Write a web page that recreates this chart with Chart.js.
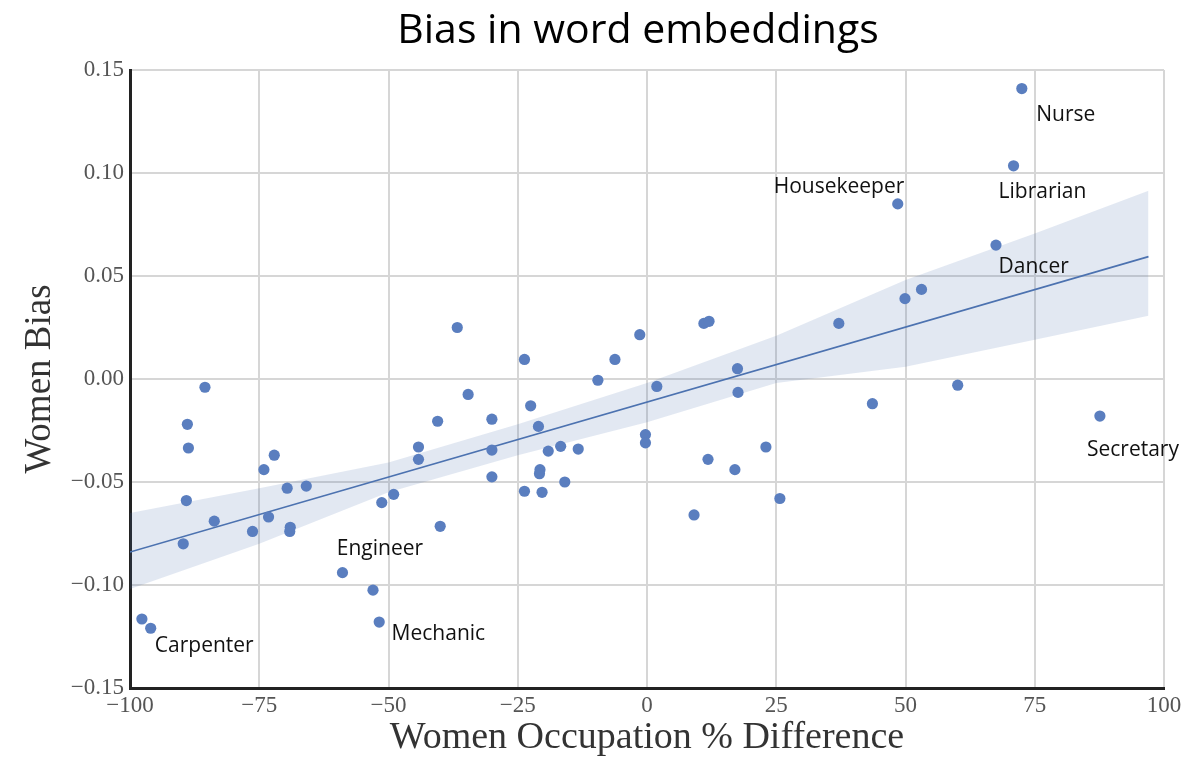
<!DOCTYPE html>
<html>
<head>
<meta charset="utf-8">
<title>Bias in word embeddings</title>
<script src="https://cdn.jsdelivr.net/npm/chart.js@4.4.0/dist/chart.umd.min.js"></script>
<style>
    html, body { margin: 0; padding: 0; background: #ffffff; }
    #wrap { width: 1186px; height: 759px; }
</style>
</head>
<body>
<div id="wrap"><canvas id="biasChart"></canvas></div>
<script>
// Occupations: % difference of women vs. bias score
const occupationDiff = [-85.5, -88.9, -88.7, -72.1, -74.1, -69.6, -65.9, -89.1, -83.7, -73.2,
    -76.3, -69.0, -69.1, -89.7, -58.9, -53.0, -51.8, -97.7, -96.0, -51.3,
    -49.0, -36.7, -23.7, -6.2, -1.4, 11.0, 12.0, -9.5, 1.9, 17.5,
    17.6, -34.6, -22.5, -40.5, -30.0, -21.0, -44.2, -44.2, -30.0, -19.1,
    -16.7, -13.3, -0.3, -0.3, -30.0, -20.7, -20.8, -15.9, -23.7, -20.3,
    -40.0, 11.8, 17.0, 23.0, 25.7, 9.1, 72.5, 70.9, 48.5, 67.5,
    53.1, 49.9, 37.1, 60.1, 43.6, 87.6];
const womenBias = [-0.004, -0.022, -0.0335, -0.037, -0.044, -0.053, -0.052, -0.059, -0.069, -0.067,
    -0.074, -0.072, -0.074, -0.080, -0.094, -0.1025, -0.118, -0.1165, -0.121, -0.060,
    -0.056, 0.025, 0.0095, 0.0095, 0.0215, 0.027, 0.028, -0.0006, -0.0036, 0.005,
    -0.0065, -0.0075, -0.013, -0.0205, -0.0195, -0.023, -0.033, -0.039, -0.0345, -0.035,
    -0.0327, -0.034, -0.027, -0.031, -0.0475, -0.044, -0.046, -0.050, -0.0545, -0.055,
    -0.0715, -0.039, -0.044, -0.033, -0.058, -0.066, 0.141, 0.1035, 0.085, 0.065,
    0.0435, 0.039, 0.027, -0.003, -0.012, -0.018];

// regression fit and its confidence band
const fitX = [-100, 97];
const fitY = [-0.084, 0.0594];
const bandX = [-100, -75, -50, -25, 0, 25, 50, 75, 97];
const bandUpper = [-0.065, -0.053, -0.0405, -0.022, -0.002, 0.021, 0.048, 0.0706, 0.0914];
const bandLower = [-0.102, -0.080, -0.055, -0.037, -0.021, -0.002, 0.006, 0.019, 0.0307];

// named occupations (text anchor: left edge x, middle y)
const labelTexts = ['Nurse', 'Librarian', 'Housekeeper', 'Dancer', 'Secretary', 'Engineer', 'Mechanic', 'Carpenter'];
const labelX = [75.3, 68.0, 24.5, 68.0, 85.1, -60.0, -49.4, -95.2];
const labelY = [0.128, 0.0908, 0.0932, 0.0544, -0.0345, -0.0825, -0.1238, -0.1296];

const xTicks = [-100, -75, -50, -25, 0, 25, 50, 75, 100];
const yTicks = [-0.15, -0.10, -0.05, 0.00, 0.05, 0.10, 0.15];

const chartTitle = 'Bias in word embeddings';

const toXY = (xs, ys) => xs.map((x, i) => ({ x: x, y: ys[i] }));
const minus = '\u2212';

// Title and occupation names drawn on top of the plot
const occupationLabels = {
    id: 'occupationLabels',
    afterDatasetsDraw(chart) {
        const ctx = chart.ctx;
        const xs = chart.scales.x, ys = chart.scales.y;
        ctx.save();
        ctx.font = '21px "Open Sans", sans-serif';
        ctx.fillStyle = '#111111';
        ctx.textAlign = 'left';
        ctx.textBaseline = 'middle';
        labelTexts.forEach(function(t, i) {
            ctx.fillText(t, xs.getPixelForValue(labelX[i]), ys.getPixelForValue(labelY[i]));
        });

        // title sits a little left of the plot centre, like the original
        ctx.font = '41px "Open Sans", sans-serif';
        ctx.fillStyle = '#000000';
        ctx.textAlign = 'center';
        ctx.textBaseline = 'alphabetic';
        const area = chart.chartArea;
        ctx.fillText(chartTitle, (area.left + area.right) / 2 - 9, 43);
        ctx.restore();
    }
};

const canvas = document.getElementById('biasChart');
new Chart(canvas, {
    type: 'scatter',
    data: {
        datasets: [{
            label: 'upper',
            data: toXY(bandX, bandUpper),
            showLine: true,
            borderWidth: 0,
            pointRadius: 0,
            backgroundColor: 'rgba(76, 114, 176, 0.16)',
            fill: '+1',
            order: 3
        }, {
            label: 'lower',
            data: toXY(bandX, bandLower),
            showLine: true,
            borderWidth: 0,
            pointRadius: 0,
            fill: false,
            order: 3
        }, {
            label: 'fit',
            data: toXY(fitX, fitY),
            showLine: true,
            borderColor: '#4c72b0',
            borderWidth: 1.6,
            pointRadius: 0,
            fill: false,
            order: 2
        }, {
            label: 'occupations',
            data: toXY(occupationDiff, womenBias),
            pointRadius: 5.6,
            pointBackgroundColor: '#5a7ebf',
            pointBorderWidth: 0,
            order: 1
        }]
    },
    options: {
        responsive: true,
        maintainAspectRatio: false,
        animation: false,
        layout: { padding: { left: 0, right: 22, top: 70, bottom: 0 } },
        plugins: {
            legend: { display: false },
            tooltip: { enabled: false },
            title: { display: false }
        },
        scales: {
            x: {
                type: 'linear',
                min: -100,
                max: 100,
                afterBuildTicks: function(scale) {
                    scale.ticks = xTicks.map(v => ({ value: v }));
                },
                afterFit: function(scale) {
                    scale.height = 71;
                    scale.paddingLeft = 0;
                    scale.paddingRight = 0;
                },
                grid: { color: '#d6d6d6', lineWidth: 2, drawTicks: false },
                border: { display: true, color: '#222222', width: 3 },
                ticks: {
                    color: '#555555',
                    padding: 4,
                    maxRotation: 0,
                    font: { family: '"Liberation Serif", serif', size: 23 },
                    callback: v => (v < 0 ? minus + Math.abs(v) : String(v))
                },
                title: {
                    display: true,
                    text: 'Women Occupation % Difference',
                    color: '#333333',
                    font: { family: '"Liberation Serif", serif', size: 38, lineHeight: 1.1 },
                    padding: { top: 0, bottom: 0 }
                }
            },
            y: {
                type: 'linear',
                min: -0.15,
                max: 0.15,
                afterBuildTicks: function(scale) {
                    scale.ticks = yTicks.map(v => ({ value: v }));
                },
                afterFit: function(scale) {
                    scale.width = 130;
                    scale.paddingTop = 0;
                    scale.paddingBottom = 0;
                },
                grid: { color: '#d6d6d6', lineWidth: 2, drawTicks: false },
                border: { display: true, color: '#222222', width: 3 },
                ticks: {
                    color: '#555555',
                    padding: 6,
                    font: { family: '"Liberation Serif", serif', size: 23 },
                    callback: function(v) {
                        if (Math.abs(v) < 1e-9) return '0.00';
                        return (v < 0 ? minus : '') + Math.abs(v).toFixed(2);
                    }
                },
                title: {
                    display: true,
                    text: 'Women Bias',
                    color: '#333333',
                    font: { family: '"Liberation Serif", serif', size: 37 },
                    padding: { top: 18, bottom: 0 }
                }
            }
        }
    },
    plugins: [occupationLabels]
});
</script>
</body>
</html>
